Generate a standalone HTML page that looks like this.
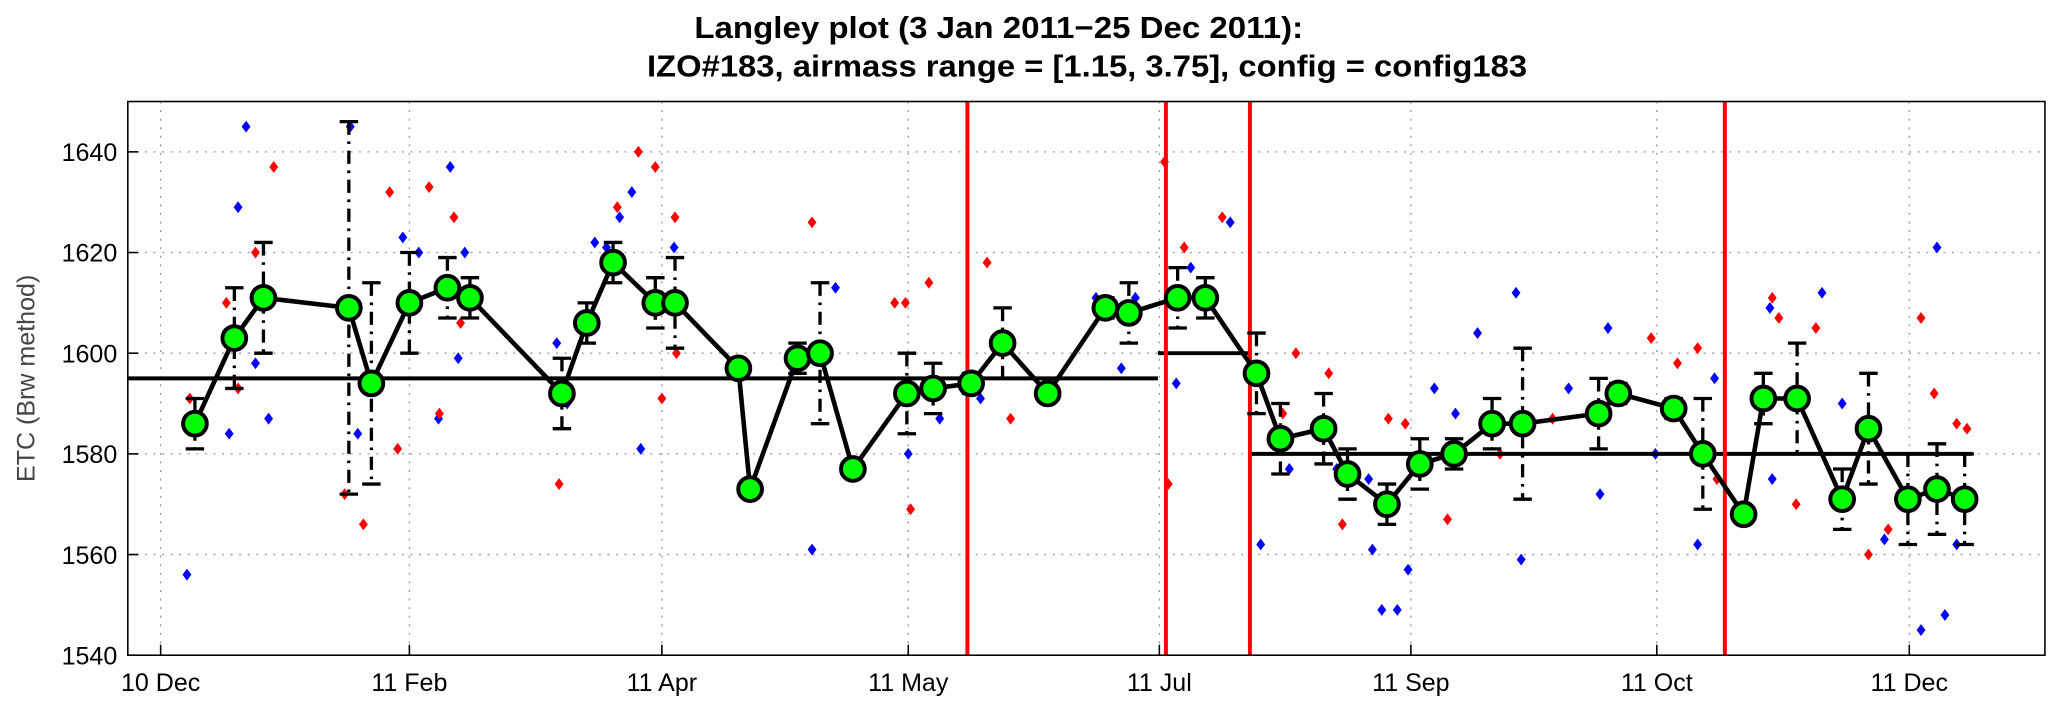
<!DOCTYPE html>
<html><head><meta charset="utf-8"><style>
body{margin:0;background:#fff;}
svg{display:block;font-family:"Liberation Sans",Arial,sans-serif;}
</style></head><body>
<svg id="chart" width="2066" height="704" viewBox="0 0 1568 534" preserveAspectRatio="none">
<text x="527" y="29" font-size="23" font-weight="bold" textLength="462" lengthAdjust="spacingAndGlyphs">Langley plot (3 Jan 2011−25 Dec 2011):</text>
<text x="491" y="58" font-size="23" font-weight="bold" textLength="668" lengthAdjust="spacingAndGlyphs">IZO#183, airmass range = [1.15, 3.75], config = config183</text>
<text transform="translate(26,287) rotate(-90)" text-anchor="middle" font-size="19" fill="#444">ETC (Brw method)</text>
</svg>
<script>
const yTicks=[1540,1560,1580,1600,1620,1640];
const xTickDays=[0,53,106.8,159.3,212.8,266.4,318.8,372.6];
const xTickLabels=["10 Dec","11 Feb","11 Apr","11 May","11 Jul","11 Sep","11 Oct","11 Dec"];
const meanDays=[7.3,15.7,21.9,40.1,44.9,53,61.1,65.9,85.5,90.8,96.4,105.4,109.6,123.1,125.6,135.7,140.5,147.5,159,164.6,172.7,179.4,189,201.3,206.3,216.7,222.6,233.5,238.6,247.8,252.9,261.3,268.3,275.6,283.7,290.2,306.4,310.6,322.4,328.6,337.3,341.5,348.7,358.3,363.9,372.3,378.5,384.4];
const meanVals=[1586,1603,1611,1609,1594,1610,1613,1611,1592,1606,1618,1610,1610,1597,1573,1599,1600,1577,1592,1593,1594,1602,1592,1609,1608,1611,1611,1596,1583,1585,1576,1570,1578,1580,1586,1586,1588,1592,1589,1580,1568,1591,1591,1571,1585,1571,1573,1571];
const errVals=[5,10,11,37,20,10,6,4,7,4,4,5,9,0,0,3,14,0,8,5,2,7,0,2,6,6,4,8,7,7,5,4,5,3,5,15,7,2,2,11,0,5,11,6,11,9,9,9];
const blueDays=[5.6,14.6,16.5,18.2,20.2,23,40.4,42,51.6,55,59.2,61.7,63.4,64.8,84.4,86.6,92.5,95,97.8,100.4,102.3,105.4,109.4,134.6,138.8,143.8,159.3,166,174.7,199.3,204.7,207.7,216.4,219.5,227.9,234.4,240.5,250.6,257.4,258.2,260.2,263.5,265.8,271.4,275.9,280.6,288.8,289.9,300,306.7,308.4,318.5,327.5,331.1,342.9,343.4,354,358.3,367.3,375.1,378.5,380.2,382.7];
const blueVals=[1556,1584,1629,1645,1598,1587,1645,1584,1623,1620,1587,1637,1599,1620,1602,1590,1622,1621,1627,1632,1581,1609,1621,1597,1561,1613,1580,1587,1591,1611,1597,1611,1594,1617,1626,1562,1577,1577,1575,1561,1549,1549,1557,1593,1588,1604,1612,1559,1593,1572,1605,1580,1562,1595,1609,1575,1612,1590,1563,1545,1621,1548,1562];
const redDays=[6.2,14,16.5,20.2,24.1,39.2,43.2,48.8,50.5,57.2,59.4,62.5,63.9,84.9,97.3,101.8,105.4,106.8,109.6,109.9,138.8,156.4,158.7,159.8,163.7,176.1,181.1,213.9,214.7,218.1,226.2,239.1,241.9,248.9,251.8,261.6,265.2,274.2,285.4,296.6,317.6,323.2,327.5,331.6,338.6,343.4,344.8,348.5,352.7,363.9,368.1,375.1,377.9,382.7,384.9];
const redVals=[1591,1610,1593,1620,1637,1572,1566,1632,1581,1633,1588,1627,1606,1574,1629,1640,1637,1591,1627,1600,1626,1610,1610,1569,1614,1618,1587,1638,1574,1621,1627,1588,1600,1596,1566,1587,1586,1567,1580,1587,1603,1598,1601,1575,1567,1611,1607,1570,1605,1560,1565,1607,1592,1586,1585];
const refStart=[-7,212.5,232.1];
const refEnd=[212.5,232.1,386];
const refVals=[1595,1600,1580];
const breakDays=[171.9,214.2,232.1,333.3];

const L=97,R=1552,T=77,B=497,D0=-7,D1=401.5,V0=1540,V1=1650;
const X=d=>L+(d-D0)/(D1-D0)*(R-L);
const Y=v=>B-(v-V0)/(V1-V0)*(B-T);
const svg=document.getElementById('chart');
const NS='http://www.w3.org/2000/svg';
function mk(tag,attrs,parent){const e=document.createElementNS(NS,tag);for(const k in attrs)e.setAttribute(k,attrs[k]);(parent||svg).appendChild(e);return e;}

const grid=mk('g',{});


yTicks.forEach(v=>{
  const l=mk('line',{x1:L,x2:R,y1:Y(v),y2:Y(v),stroke:'#999','stroke-dasharray':'1.5,5','stroke-width':1},grid);
  
  
  const tk=mk('line',{x1:L,x2:L+8,y1:Y(v),y2:Y(v),stroke:'#000','stroke-width':1.2});
  
  
  const t=mk('text',{x:L-8,y:Y(v)+7,'text-anchor':'end','font-size':19});
  t.textContent=v;
  
  
});
xTickDays.forEach((d,i)=>{
  const l=mk('line',{x1:X(d),x2:X(d),y1:T,y2:B,stroke:'#999','stroke-dasharray':'1.5,5','stroke-width':1},grid);
  
  
  const tk=mk('line',{x1:X(d),x2:X(d),y1:B,y2:B-8,stroke:'#000','stroke-width':1.2});
  
  
  const t=mk('text',{x:X(d),y:B+27,'text-anchor':'middle','font-size':19});
  t.textContent=xTickLabels[i];
  
  
});

function diamond(d,v,color,name){
  const x=X(d),y=Y(v),s=4.5;
  const p=mk('polygon',{points:`${x},${y-s} ${x+s*0.75},${y} ${x},${y+s} ${x-s*0.75},${y}`,fill:color});
  
  
}
blueDays.forEach((d,i)=>diamond(d,blueVals[i],'#0000ff','blue-point'));
redDays.forEach((d,i)=>diamond(d,redVals[i],'#ff0000','red-point'));

refVals.forEach((v,i)=>{
  const l=mk('line',{x1:X(refStart[i]),x2:X(refEnd[i]),y1:Y(v),y2:Y(v),stroke:'#000','stroke-width':3});
  
  
});
breakDays.forEach(d=>{
  const l=mk('line',{x1:X(d),x2:X(d),y1:T,y2:B,stroke:'#ff0000','stroke-width':3});
  
  
});

meanDays.forEach((d,i)=>{
  const e=errVals[i];if(!e)return;
  const x=X(d),y1=Y(meanVals[i]+e),y2=Y(meanVals[i]-e);
  const g=mk('g',{stroke:'#000','stroke-width':2.5});
  
  
  mk('line',{x1:x,x2:x,y1:y1,y2:y2,'stroke-dasharray':'10,5,2,5'},g);
  mk('line',{x1:x-7,x2:x+7,y1:y1,y2:y1},g);
  mk('line',{x1:x-7,x2:x+7,y1:y2,y2:y2},g);
});
const pl=mk('polyline',{points:meanDays.map((d,i)=>X(d)+','+Y(meanVals[i])).join(' '),fill:'none',stroke:'#000','stroke-width':3.5});


meanDays.forEach((d,i)=>{
  const c=mk('circle',{cx:X(d),cy:Y(meanVals[i]),r:9,fill:'#00ff00',stroke:'#000','stroke-width':3});
  
  
});
const frame=mk('rect',{x:L,y:T,width:R-L,height:B-T,fill:'none',stroke:'#000','stroke-width':1.2});


</script>
</body></html>
